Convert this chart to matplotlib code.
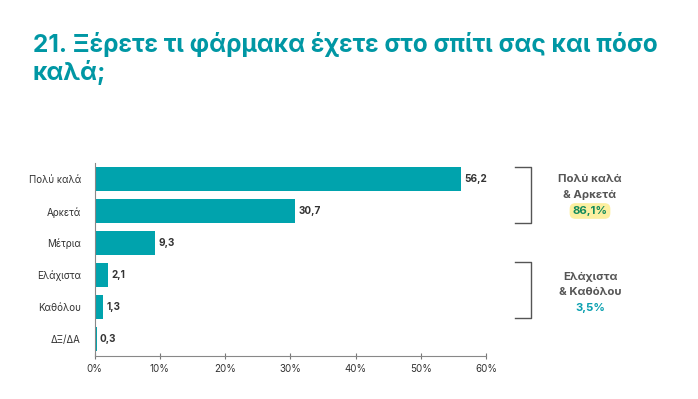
import matplotlib.pyplot as plt

# data
categories = ['Πολύ καλά', 'Αρκετά', 'Μέτρια', 'Ελάχιστα', 'Καθόλου', 'ΔΞ/ΔΑ']
values = [56.2, 30.7, 9.3, 2.1, 1.3, 0.3]
value_labels = ['56,2', '30,7', '9,3', '2,1', '1,3', '0,3']
xticks = [0, 10, 20, 30, 40, 50, 60]
xtick_labels = ['0%', '10%', '20%', '30%', '40%', '50%', '60%']
group_top = ['Πολύ καλά', '& Αρκετά', '86,1%']
group_bottom = ['Ελάχιστα', '& Καθόλου', '3,5%']

teal = '#00a3ad'
title_color = '#0097a4'
dark = '#333333'

plt.rcParams['font.family'] = ['Inter', 'DejaVu Sans']

fig = plt.figure(figsize=(6.98, 3.99), dpi=100)
ax = fig.add_axes([0.1357, 0.1078, 0.5606, 0.4842])

y = list(range(len(categories)))
ax.barh(y, values, height=0.75, color=teal)
ax.set_ylim(5.53, -0.51)
ax.set_xlim(0, 60)

for yi, v, lab in zip(y, values, value_labels):
    ax.text(v + 0.5, yi, lab, va='center', ha='left', fontsize=7.2,
            fontweight='bold', color=dark)

ax.set_yticks(y)
ax.set_yticklabels(categories, fontsize=7, color=dark)
ax.set_xticks(xticks)
ax.set_xticklabels(xtick_labels, fontsize=7, color=dark)
ax.tick_params(axis='y', length=0, pad=10)
ax.tick_params(axis='x', length=4, direction='inout', color='#777777', pad=4)

for s in ['top', 'right']:
    ax.spines[s].set_visible(False)
ax.spines['left'].set_color('#888888')
ax.spines['bottom'].set_color('#888888')
ax.spines['left'].set_linewidth(0.8)
ax.spines['bottom'].set_linewidth(0.8)

# title
fig.text(33 / 698, 1 - 52 / 399, '21. Ξέρετε τι φάρμακα έχετε στο σπίτι σας και πόσο',
         fontsize=17.6, fontweight='bold', color=title_color, ha='left', va='baseline')
fig.text(33 / 698, 1 - 80 / 399, 'καλά;',
         fontsize=17.6, fontweight='bold', color=title_color, ha='left', va='baseline')


# brackets (figure pixel coords)
def bracket(y0, y1):
    xs = [515 / 698, 531 / 698, 531 / 698, 515 / 698]
    ys = [1 - y0 / 399, 1 - y0 / 399, 1 - y1 / 399, 1 - y1 / 399]
    fig.add_artist(plt.Line2D(xs, ys, color='#555555', lw=1.0))


bracket(167, 223)
bracket(262, 318)

cx = 590 / 698
gray = '#555555'
fig.text(cx, 1 - 179 / 399, group_top[0], ha='center', va='center', fontsize=8.2,
         fontweight='bold', color=gray)
fig.text(cx, 1 - 195 / 399, group_top[1], ha='center', va='center', fontsize=8.2,
         fontweight='bold', color=gray)
fig.text(cx, 1 - 211 / 399, group_top[2], ha='center', va='center', fontsize=8.2,
         fontweight='bold', color='#138a5b',
         bbox=dict(boxstyle='round,pad=0.25,rounding_size=0.5', fc='#fcefa0', ec='none'))

fig.text(cx, 1 - 277 / 399, group_bottom[0], ha='center', va='center', fontsize=8.2,
         fontweight='bold', color=gray)
fig.text(cx, 1 - 292 / 399, group_bottom[1], ha='center', va='center', fontsize=8.2,
         fontweight='bold', color=gray)
fig.text(cx, 1 - 308 / 399, group_bottom[2], ha='center', va='center', fontsize=8.2,
         fontweight='bold', color='#0aa0b0')

fig.savefig('out.png', dpi=100, facecolor='white')
